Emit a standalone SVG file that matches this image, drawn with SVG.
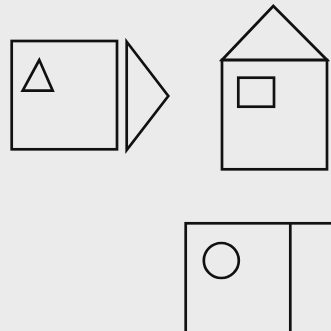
<svg xmlns="http://www.w3.org/2000/svg" width="331" height="331" viewBox="0 0 331 331">
  <style>
    .s { fill: none; stroke: #111; stroke-width: 2.7; stroke-linejoin: miter; }
  </style>
  <rect x="0" y="0" width="331" height="331" fill="#ebebeb"/>
  <g id="square-with-triangle">
    <rect class="s" x="11.7" y="41" width="105.3" height="108.3"/>
    <polygon class="s" points="39.3,60 22.7,90.7 52.7,90.7"/>
  </g>
  <g id="right-triangle">
    <polygon class="s" points="126.7,41.7 168.3,96 126.7,150"/>
  </g>
  <g id="house">
    <polygon class="s" points="273.3,6 327,60 222,60"/>
    <rect class="s" x="222" y="60" width="105" height="109.3"/>
    <rect class="s" x="238.3" y="77.7" width="35.7" height="29"/>
  </g>
  <g id="split-box">
    <rect class="s" x="185.7" y="223.3" width="160" height="120"/>
    <line class="s" x1="290.3" y1="223.3" x2="290.3" y2="331"/>
    <circle class="s" cx="221.3" cy="260.5" r="17.5"/>
  </g>
</svg>
